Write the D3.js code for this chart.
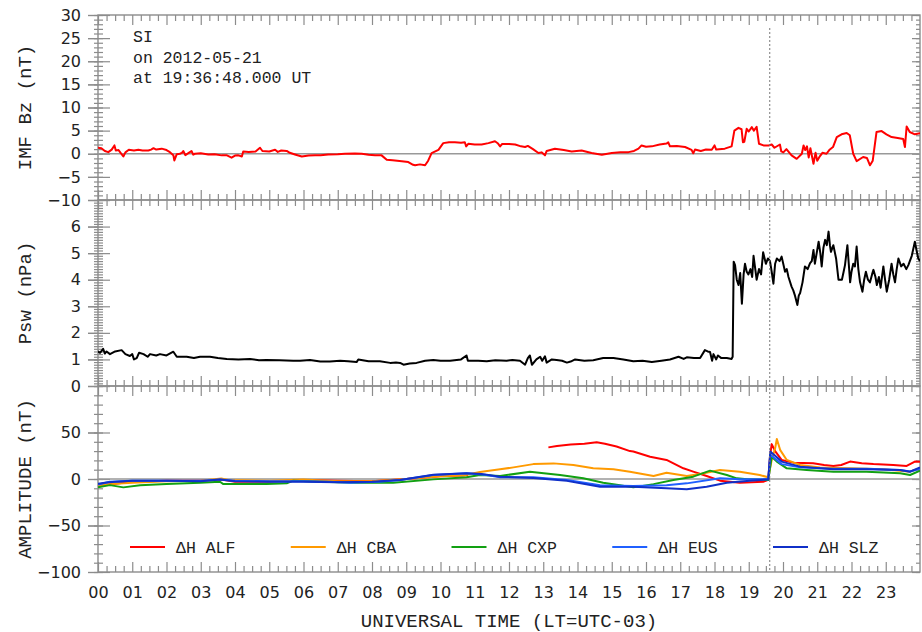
<!DOCTYPE html>
<html><head><meta charset="utf-8">
<script src="https://cdn.jsdelivr.net/npm/d3@7"></script>
<style>body{margin:0;background:#fff}svg{display:block}</style>
</head><body><svg id="c" width="922" height="632"></svg>
<script>
// ---------------- data ----------------
const hourLabels = ["00","01","02","03","04","05","06","07","08","09","10","11","12","13","14","15","16","17","18","19","20","21","22","23"];
const bzTicks = [30,25,20,15,10,5,0,-5,-10];
const pswTicks = [0,1,2,3,4,5,6];
const ampTicks = [50,0,-50,-100];
const siTime = 19.6133; // 19:36:48 UT
const annotation = ["SI","on 2012-05-21","at 19:36:48.000 UT"];
const stations = ["ALF","CBA","CXP","EUS","SLZ"];
const stationColors = ["#ff0000","#ff9a00","#12a012","#2060ff","#1030c8"];

const imfBz = [[0,1.3],[0.1,1.2],[0.2,0.6],[0.3,0.35],[0.4,0.9],[0.48,1.8],[0.52,0.7],[0.6,0.8],[0.74,-0.6],[0.8,0.3],[0.9,0.85],[1.05,0.7],[1.18,0.85],[1.3,0.7],[1.47,0.7],[1.55,0.9],[1.62,1.2],[1.7,0.9],[1.86,1.1],[2.0,0.8],[2.1,0.35],[2.2,-0.3],[2.23,-1.45],[2.3,-0.1],[2.39,0],[2.45,0.2],[2.49,0.6],[2.55,-0.3],[2.65,0.2],[2.73,0.6],[2.78,-0.2],[2.83,0],[3.0,0.1],[3.22,-0.15],[3.4,-0.1],[3.61,-0.35],[3.75,-0.3],[3.9,-0.85],[4.0,-0.4],[4.1,-0.35],[4.2,-0.6],[4.24,0.5],[4.4,0.4],[4.6,0.5],[4.73,1.3],[4.8,0.6],[5.0,0.5],[5.17,0.85],[5.25,0.4],[5.35,0.7],[5.51,0.6],[5.6,0.2],[5.75,-0.15],[5.95,-0.6],[6.15,-0.4],[6.34,-0.35],[6.5,-0.3],[6.72,-0.15],[7.0,-0.1],[7.21,0],[7.5,0.05],[7.7,0],[7.9,-0.2],[8.09,-0.35],[8.28,-0.35],[8.43,-1.3],[8.6,-1.4],[8.87,-1.6],[9.06,-1.8],[9.2,-2.4],[9.26,-2.5],[9.4,-2.3],[9.55,-2.5],[9.64,-1.5],[9.74,0.15],[9.94,0.85],[10.08,2.3],[10.25,2.5],[10.42,2.5],[10.6,2.4],[10.71,2.5],[10.75,1.6],[10.81,2.15],[11.0,2.0],[11.2,2.0],[11.4,2.3],[11.59,2.7],[11.68,2.2],[11.74,1.6],[11.8,2.1],[12.0,2.1],[12.18,2.0],[12.35,1.6],[12.47,1.45],[12.55,1.7],[12.7,1.0],[12.86,0.15],[12.95,0.3],[13.05,-0.35],[13.1,0.6],[13.34,1.1],[13.6,0.8],[13.83,0.5],[14.12,0.7],[14.41,0.15],[14.71,-0.2],[15.0,0.15],[15.25,0.3],[15.49,0.35],[15.65,0.6],[15.78,1.1],[15.87,1.8],[16.0,1.5],[16.17,1.6],[16.4,2.0],[16.6,2.2],[16.65,2.45],[16.7,1.6],[16.9,1.7],[17.14,1.45],[17.33,0.85],[17.38,0.1],[17.43,0.9],[17.6,0.6],[17.75,0.9],[17.92,0.85],[18.0,1.8],[18.05,0.9],[18.3,1.1],[18.5,1.6],[18.58,5.0],[18.7,5.6],[18.79,5.3],[18.83,2.5],[18.87,2.6],[18.94,5.4],[19.0,4.8],[19.09,5.75],[19.15,5.0],[19.23,5.8],[19.3,2.15],[19.43,1.8],[19.58,1.8],[19.67,2.0],[19.75,1.3],[19.91,2.0],[19.95,0.5],[20.01,0.3],[20.1,1.0],[20.25,-0.35],[20.4,-1.1],[20.55,0.0],[20.6,1.8],[20.65,0.8],[20.7,1.6],[20.75,-0.8],[20.8,1.2],[20.89,-2.15],[20.95,0.2],[21.0,-1.5],[21.08,-0.5],[21.15,0.2],[21.27,0.0],[21.35,0.8],[21.46,1.45],[21.57,3.6],[21.71,4.2],[21.86,4.5],[21.95,4.0],[22.05,0.0],[22.15,-1.6],[22.34,-0.7],[22.45,-0.9],[22.54,-2.5],[22.62,-1.5],[22.73,4.7],[22.88,4.9],[23.02,4.2],[23.17,3.6],[23.35,3.4],[23.51,3.2],[23.56,1.45],[23.61,5.9],[23.7,4.7],[23.85,4.2],[24.0,4.45]];

const psw = [[0,1.3],[0.06,1.25],[0.15,1.4],[0.2,1.22],[0.25,1.3],[0.35,1.2],[0.5,1.3],[0.69,1.35],[0.8,1.2],[0.93,1.13],[1.0,1.2],[1.05,1.0],[1.13,1.05],[1.2,1.25],[1.33,1.2],[1.45,1.1],[1.52,1.2],[1.7,1.15],[1.81,1.2],[2.0,1.15],[2.2,1.29],[2.3,1.1],[2.59,1.1],[2.8,1.05],[2.98,1.1],[3.27,1.1],[3.5,1.05],[3.76,1.02],[4.1,1.0],[4.44,1.02],[4.7,0.97],[4.92,0.98],[5.3,0.97],[5.7,0.95],[5.9,0.95],[6.19,0.98],[6.49,0.92],[6.77,0.92],[7.07,0.95],[7.3,0.93],[7.55,0.9],[7.6,1.0],[7.9,0.93],[8.23,0.93],[8.53,0.87],[8.7,0.88],[8.82,0.87],[8.92,0.8],[9.1,0.85],[9.3,0.87],[9.55,0.95],[9.79,0.98],[10.0,0.95],[10.28,0.95],[10.6,1.0],[10.76,1.15],[10.8,0.95],[11.1,0.95],[11.35,0.93],[11.6,0.97],[11.93,0.95],[12.1,0.98],[12.32,0.95],[12.47,0.8],[12.55,1.05],[12.61,1.15],[12.67,0.8],[12.8,1.0],[12.91,1.1],[12.97,0.95],[13.05,1.12],[13.1,0.88],[13.25,1.0],[13.39,0.98],[13.55,0.95],[13.69,0.88],[13.8,0.92],[13.93,1.0],[14.2,0.95],[14.46,0.97],[14.75,1.05],[15.05,1.05],[15.34,1.0],[15.63,0.93],[15.9,0.95],[16.17,0.9],[16.45,0.95],[16.7,1.0],[16.95,1.1],[17.1,1.02],[17.19,1.08],[17.4,1.05],[17.58,1.05],[17.72,1.35],[17.8,1.3],[17.87,1.28],[17.93,0.95],[17.97,1.2],[18.05,1.0],[18.1,1.15],[18.2,1.05],[18.36,1.05],[18.5,1.02],[18.53,1.1],[18.56,4.68],[18.6,4.55],[18.65,4.0],[18.7,3.8],[18.75,4.25],[18.8,3.1],[18.85,4.2],[18.89,4.6],[18.94,4.3],[18.99,4.2],[19.05,4.4],[19.1,4.1],[19.14,4.9],[19.18,4.5],[19.23,4.0],[19.3,4.4],[19.36,4.2],[19.42,5.03],[19.5,4.6],[19.56,4.8],[19.62,4.7],[19.67,4.3],[19.72,3.85],[19.77,4.6],[19.82,4.8],[19.9,4.7],[19.96,4.87],[20.06,4.3],[20.11,4.4],[20.16,4.1],[20.25,3.74],[20.3,3.6],[20.35,3.4],[20.42,3.05],[20.46,3.4],[20.5,3.5],[20.57,3.9],[20.64,4.5],[20.72,4.4],[20.79,4.62],[20.84,4.7],[20.89,5.12],[20.93,4.6],[20.97,4.9],[21.04,5.43],[21.09,5.0],[21.13,4.5],[21.18,5.2],[21.23,5.5],[21.28,5.3],[21.33,5.81],[21.37,5.3],[21.4,5.05],[21.47,5.3],[21.55,4.8],[21.62,4.0],[21.72,4.0],[21.77,4.3],[21.81,4.55],[21.88,5.3],[21.92,4.6],[21.96,3.9],[22.0,4.3],[22.05,4.6],[22.1,4.5],[22.15,5.25],[22.2,4.4],[22.25,3.9],[22.32,3.55],[22.37,4.0],[22.42,4.3],[22.48,4.0],[22.54,3.9],[22.6,4.2],[22.64,4.37],[22.7,4.1],[22.74,3.8],[22.8,4.1],[22.85,3.7],[22.93,4.5],[22.98,4.0],[23.03,3.55],[23.1,4.0],[23.17,4.6],[23.22,4.2],[23.27,3.9],[23.32,4.4],[23.37,4.8],[23.45,4.5],[23.52,4.6],[23.6,4.4],[23.66,4.55],[23.76,4.9],[23.85,5.43],[23.9,5.1],[23.95,4.8],[24.0,4.7]];

const dhALF = [[0,-7],[0.5,-5],[1,-3],[2,-2],[3,-2],[3.6,-0.5],[4,-3],[5,-3],[6,-1],[7,-2],[8,-2.5],[9,0],[10,3],[10.8,4],[10.81,null],[13.14,null],[13.15,34],[13.4,35.5],[13.8,37],[14.2,38],[14.56,39.5],[14.8,38],[15.14,35],[15.53,30],[15.63,29.5],[16.12,24],[16.6,20.5],[17.09,11.5],[17.38,7.9],[17.77,3.2],[18.16,-1.8],[18.74,-4],[19.42,-3],[19.57,-1],[19.62,24],[19.67,37.5],[19.77,30],[19.96,20.5],[20.3,17.6],[20.88,16.9],[21.2,15],[21.47,14],[21.7,15],[21.96,18.7],[22.3,17],[22.64,16],[23.22,15],[23.61,14],[23.85,18.7],[24,18.5]];
const dhCBA = [[0,-7],[0.5,-5],[1,-4],[2,-2.5],[3,-2],[3.6,0.5],[3.8,-1],[5,-2],[6,-0.5],[6.5,-1.5],[7,-2.5],[8,-2.5],[9,0],[10,3],[10.7,4],[11.15,7.5],[11.74,10.4],[12.13,12.5],[12.71,16],[13.3,16.8],[13.88,15],[14.46,11.5],[15.05,10.4],[15.53,7.9],[16.22,3.2],[16.6,6.8],[17.19,3.2],[17.58,5.4],[18.16,9.7],[18.74,7.9],[19.32,4.3],[19.57,1.8],[19.67,20.5],[19.77,33],[19.82,43],[19.92,31],[20.11,20.5],[20.5,15],[21.08,12.5],[21.96,11.5],[22.93,10.4],[23.71,7.9],[24,11.5]];
const dhCXP = [[0,-9],[0.35,-6.6],[0.74,-9],[1.23,-6.6],[2,-5.5],[2.98,-4],[3.56,-3],[3.66,-5.5],[4.15,-5.5],[4.92,-5.5],[5.51,-4.7],[5.7,-1.8],[6.5,-3],[7.5,-4],[8.62,-4],[9.79,-0.4],[10.76,1.8],[11.15,4.3],[11.74,3.2],[12.61,7.9],[13.49,4.3],[14.17,0.7],[14.75,-4],[15.24,-6.6],[15.63,-9],[16.22,-5.5],[16.8,-1.1],[17.38,2.5],[17.87,9],[18.36,4.3],[18.65,0.7],[19.03,-0.4],[19.57,-1],[19.67,24],[19.82,18.7],[20.11,11.5],[20.69,9.7],[21.47,7.9],[22.44,7.9],[23.42,6.1],[23.71,4.3],[24,9]];
const dhEUS = [[0,-6],[0.35,-3],[0.96,-1.8],[2,-2],[3,-2],[3.56,-0.4],[4,-2],[5,-2.5],[6,-2.5],[6.77,-3],[7.36,-4],[8.2,-3],[8.82,-1.1],[9.79,4.3],[10.76,6.1],[11.35,4.3],[11.74,1.8],[12.71,1.8],[13.69,-1.1],[14.66,-6.6],[15.63,-7.6],[16.6,-6.6],[17.19,-4.7],[18.16,0.7],[18.74,-0.4],[19.57,-0.4],[19.63,26],[19.96,16],[20.5,12.5],[21.47,11],[22.44,11],[23.42,9.7],[23.71,8],[24,11]];
const dhSLZ = [[0,-5],[0.3,-3.5],[1,-2],[2,-2],[3,-2.5],[3.56,-0.6],[4,-2.5],[5,-3],[6,-3],[7,-3.5],[8,-3],[8.82,-1],[9.79,4.5],[10.76,6.3],[11.2,5.5],[11.74,2.5],[12.71,1],[13.69,-2],[14.66,-8.3],[15.63,-8.3],[16.6,-10],[17.19,-11],[17.77,-8.3],[18.36,-4],[19.03,-1.8],[19.57,-0.4],[19.63,29.5],[19.96,18.7],[20.5,13.3],[21.47,10.4],[22.44,10.4],[23.42,9.7],[23.71,7.9],[24,12.5]];
const dhSeries = [dhALF, dhCBA, dhCXP, dhEUS, dhSLZ];

// ---------------- layout ----------------
const svg = d3.select("#c");
const L = 98, R = 920;
const axisCol = "#8c8c8c";
const textCol = "#222";
const x = d3.scaleLinear().domain([0,24]).range([L,R]);
const panels = [
  {y: d3.scaleLinear().domain([-10,30]).range([200,15]), major: bzTicks, majorStep: 5, minorStep: 1, title: "IMF Bz (nT)"},
  {y: d3.scaleLinear().domain([0,7]).range([386,200]), major: pswTicks, majorStep: 1, minorStep: 0.1, title: "Psw (nPa)"},
  {y: d3.scaleLinear().domain([-100,100]).range([572,386]), major: ampTicks, majorStep: 50, minorStep: 10, title: "AMPLITUDE (nT)"}
];
const hourVals = d3.range(0,24);
const quarterVals = d3.range(0,24.001,0.25).filter(v => Math.abs(v - Math.round(v)) > 1e-6);

function styleAxis(g){
  g.select(".domain").remove();
  g.selectAll(".tick line").attr("stroke", axisCol).attr("stroke-width", 1.2);
  g.selectAll(".tick text").attr("fill", textCol);
}

panels.forEach((p, i) => {
  const [d0, d1] = p.y.domain();
  const top = p.y.range()[1], bot = p.y.range()[0];
  const minors = d3.range(d0, d1 + 1e-9, p.minorStep).map(v => +v.toFixed(4));
  const allMajor = d3.range(d0, d1 + 1e-9, p.majorStep);
  svg.append("clipPath").attr("id","clip"+i).append("rect")
    .attr("x",L).attr("y",top).attr("width",R-L).attr("height",bot-top);
  svg.append("g").attr("transform",`translate(${L},0)`)
    .call(d3.axisLeft(p.y).tickValues(p.major).tickSize(10).tickPadding(7).tickFormat(d3.format("d")))
    .call(styleAxis)
    .call(g => g.selectAll("text").attr("font-family","'DejaVu Sans', sans-serif").attr("font-size",16));
  svg.append("g").attr("transform",`translate(${L},0)`)
    .call(d3.axisLeft(p.y).tickValues(allMajor).tickSize(10).tickFormat("")).call(styleAxis);
  svg.append("g").attr("transform",`translate(${L},0)`)
    .call(d3.axisRight(p.y).tickValues(allMajor).tickSize(12).tickFormat("")).call(styleAxis);
  svg.append("g").attr("transform",`translate(${L},0)`)
    .call(d3.axisLeft(p.y).tickValues(minors).tickSize(4).tickFormat("")).call(styleAxis);
  svg.append("g").attr("transform",`translate(${L},0)`)
    .call(d3.axisRight(p.y).tickValues(minors).tickSize(5).tickFormat("")).call(styleAxis);
  svg.append("g").attr("transform",`translate(${R},0)`)
    .call(d3.axisLeft(p.y).tickValues(allMajor).tickSize(8).tickFormat("")).call(styleAxis);
  svg.append("g").attr("transform",`translate(${R},0)`)
    .call(d3.axisLeft(p.y).tickValues(minors).tickSize(4).tickFormat("")).call(styleAxis);
  svg.append("g").attr("transform",`translate(0,${top})`)
    .call(d3.axisBottom(x).tickValues(hourVals).tickSize(10).tickFormat("")).call(styleAxis);
  svg.append("g").attr("transform",`translate(0,${top})`)
    .call(d3.axisBottom(x).tickValues(quarterVals).tickSize(6).tickFormat("")).call(styleAxis);
  svg.append("g").attr("transform",`translate(0,${bot})`)
    .call(d3.axisTop(x).tickValues(hourVals).tickSize(10).tickFormat("")).call(styleAxis);
  svg.append("g").attr("transform",`translate(0,${bot})`)
    .call(d3.axisTop(x).tickValues(quarterVals).tickSize(6).tickFormat("")).call(styleAxis);
  svg.append("rect").attr("x",L).attr("y",top).attr("width",R-L).attr("height",bot-top)
    .attr("fill","none").attr("stroke",axisCol).attr("stroke-width",1.4);
  svg.append("text").attr("transform",`translate(31,${(top+bot)/2}) rotate(-90)`)
    .attr("text-anchor","middle").attr("font-family","'Liberation Mono', monospace")
    .attr("font-size",19).attr("fill",textCol).text(p.title);
});

// zero lines
[0,2].forEach(i => {
  const p = panels[i];
  svg.append("line").attr("x1",L).attr("x2",R).attr("y1",p.y(0)).attr("y2",p.y(0))
    .attr("stroke","#999").attr("stroke-width",1.5);
});

// bottom hour labels
svg.append("g").attr("transform",`translate(0,572)`)
  .call(d3.axisBottom(x).tickValues(hourVals).tickSize(0).tickPadding(15).tickFormat(d => hourLabels[d]))
  .call(styleAxis)
  .call(g => g.selectAll("text").attr("font-family","'DejaVu Sans', sans-serif").attr("font-size",16));

// x title
svg.append("text").attr("x",(L+R)/2).attr("y",627).attr("text-anchor","middle")
  .attr("font-family","'Liberation Mono', monospace").attr("font-size",19).attr("fill",textCol)
  .text("UNIVERSAL TIME (LT=UTC-03)");

// data lines
const lineGen = (p) => d3.line().defined(d => d[1] !== null).x(d => x(d[0])).y(d => p.y(d[1]));
svg.append("path").datum(imfBz).attr("clip-path","url(#clip0)")
  .attr("d", lineGen(panels[0])).attr("fill","none").attr("stroke","#ff0000").attr("stroke-width",2).attr("stroke-linejoin","round");
svg.append("path").datum(psw).attr("clip-path","url(#clip1)")
  .attr("d", lineGen(panels[1])).attr("fill","none").attr("stroke","#000").attr("stroke-width",2).attr("stroke-linejoin","round");
dhSeries.forEach((s, k) => {
  svg.append("path").datum(s).attr("clip-path","url(#clip2)")
    .attr("d", lineGen(panels[2])).attr("fill","none").attr("stroke",stationColors[k]).attr("stroke-width",2).attr("stroke-linejoin","round");
});

// SI marker line
svg.append("line").attr("x1",x(siTime)).attr("x2",x(siTime)).attr("y1",28).attr("y2",572)
  .attr("stroke","#777").attr("stroke-width",1).attr("stroke-dasharray","2,2");

// annotation
annotation.forEach((t, k) => {
  svg.append("text").attr("x",133).attr("y",42 + k*20.5)
    .attr("font-family","'Liberation Mono', monospace").attr("font-size",16.5).attr("fill",textCol).text(t);
});

// legend
stations.forEach((s, k) => {
  const tx = 176 + k*160.75;
  svg.append("line").attr("x1",tx-46).attr("x2",tx-11).attr("y1",547).attr("y2",547)
    .attr("stroke",stationColors[k]).attr("stroke-width",2);
  svg.append("text").attr("x",tx).attr("y",553)
    .attr("font-family","'Liberation Mono', monospace").attr("font-size",16.5).attr("fill",textCol)
    .text("ΔH " + s);
});
</script>
</body></html>
